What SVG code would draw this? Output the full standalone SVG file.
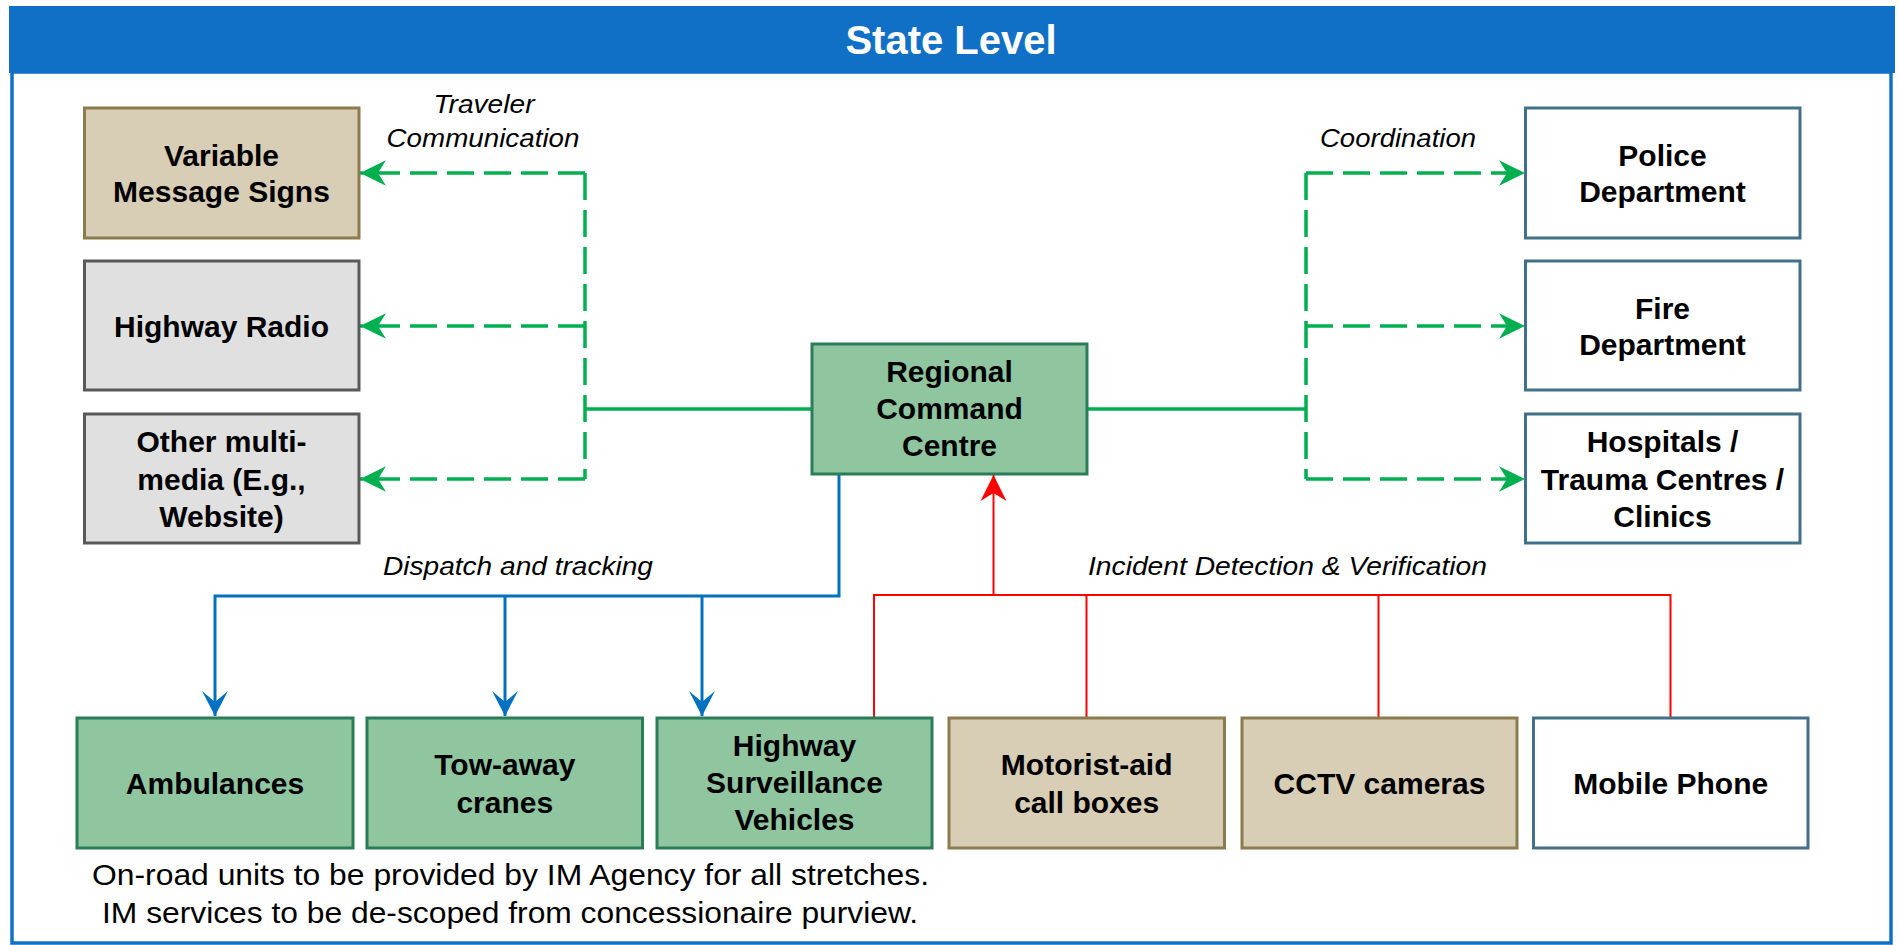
<svg xmlns="http://www.w3.org/2000/svg" width="1898" height="945" viewBox="0 0 1898 945">
<defs>
<style>
.t{font-family:"Liberation Sans",Arial,sans-serif;font-weight:bold;font-size:30px;fill:#000;text-anchor:middle}
.lbl{font-family:"Liberation Sans",Arial,sans-serif;font-style:italic;font-size:26px;fill:#000;text-anchor:middle}
.note{font-family:"Liberation Sans",Arial,sans-serif;font-size:30px;fill:#000}
.g{fill:#8FC6A0;stroke:#2A7D57;stroke-width:3}
.tan{fill:#D8CDB5;stroke:#8C7B4F;stroke-width:3}
.gr{fill:#E0E0E0;stroke:#595959;stroke-width:3}
.w{fill:#FFFFFF;stroke:#42708A;stroke-width:3}
.gd{fill:none;stroke:#00B050;stroke-width:3.5;stroke-dasharray:27 10}
.gs{fill:none;stroke:#00B050;stroke-width:3.5}
.bl{fill:none;stroke:#0070C0;stroke-width:3}
.rd{fill:none;stroke:#FF0000;stroke-width:2}
</style>
<marker id="ag" markerUnits="userSpaceOnUse" markerWidth="30" markerHeight="30" viewBox="-28 -15 30 30" refX="0" refY="0" orient="auto">
<path d="M0,0 L-26,-12.7 L-18,0 L-26,12.7 Z" fill="#00B050"/>
</marker>
<marker id="ab" markerUnits="userSpaceOnUse" markerWidth="30" markerHeight="30" viewBox="-28 -15 30 30" refX="0" refY="0" orient="auto">
<path d="M0,0 L-25,-13 L-14,0 L-25,13 Z" fill="#0070C0"/>
</marker>
<marker id="ar" markerUnits="userSpaceOnUse" markerWidth="30" markerHeight="30" viewBox="-28 -15 30 30" refX="0" refY="0" orient="auto">
<path d="M0,0 L-26,-13 L-18,0 L-26,13 Z" fill="#FF0000"/>
</marker>
</defs>

<g id="frame">
<rect x="12" y="72" width="1879" height="871" fill="#FFFFFF" stroke="#1070C6" stroke-width="3.5"/>
<rect x="9" y="6" width="1886" height="67" fill="#1070C6"/>
<text x="951" y="54" style="font-family:'Liberation Sans',Arial,sans-serif;font-weight:bold;font-size:40px;fill:#FFFFFF;text-anchor:middle">State Level</text>
</g>

<g id="connectors">
<path class="gs" d="M812,409 H585"/>
<path class="gd" d="M585,173 V479"/>
<path class="gd" d="M585,173 H360" marker-end="url(#ag)"/>
<path class="gd" d="M585,326 H360" marker-end="url(#ag)"/>
<path class="gd" d="M585,479 H360" marker-end="url(#ag)"/>
<path class="gs" d="M1087,409 H1306"/>
<path class="gd" d="M1306,173 V479"/>
<path class="gd" d="M1306,173 H1525" marker-end="url(#ag)"/>
<path class="gd" d="M1306,326 H1525" marker-end="url(#ag)"/>
<path class="gd" d="M1306,479 H1525" marker-end="url(#ag)"/>
<path class="bl" d="M839,474 V596 H215 V716" marker-end="url(#ab)"/>
<path class="bl" d="M505,596 V716" marker-end="url(#ab)"/>
<path class="bl" d="M702,596 V716" marker-end="url(#ab)"/>
<path class="rd" d="M874,718 V595 H1670.5 V718"/>
<path class="rd" d="M1086.5,595 V718"/>
<path class="rd" d="M1378.5,595 V718"/>
<path class="rd" d="M993.5,595 V475" marker-end="url(#ar)"/>
<text class="lbl" x="484" y="113" textLength="101" lengthAdjust="spacingAndGlyphs">Traveler</text>
<text class="lbl" x="483" y="147" textLength="193" lengthAdjust="spacingAndGlyphs">Communication</text>
<text class="lbl" x="1398" y="147" textLength="156" lengthAdjust="spacingAndGlyphs">Coordination</text>
<text class="lbl" x="518" y="575" textLength="270" lengthAdjust="spacingAndGlyphs">Dispatch and tracking</text>
<text class="lbl" x="1287.5" y="575" textLength="399" lengthAdjust="spacingAndGlyphs">Incident Detection &amp; Verification</text>
</g>

<g id="vms"><rect class="tan" x="84.5" y="108" width="274.5" height="130"/>
<text class="t" x="221.5" y="166">Variable</text><text class="t" x="221.5" y="202">Message Signs</text></g>
<g id="radio"><rect class="gr" x="84.5" y="261" width="274.5" height="129"/>
<text class="t" x="221.5" y="336.5">Highway Radio</text></g>
<g id="multimedia"><rect class="gr" x="84.5" y="414" width="274.5" height="129"/>
<text class="t" x="221.5" y="452">Other multi-</text><text class="t" x="221.5" y="489.5">media (E.g.,</text><text class="t" x="221.5" y="526.5">Website)</text></g>

<g id="police"><rect class="w" x="1525.5" y="108" width="274.5" height="130"/>
<text class="t" x="1662.5" y="166">Police</text><text class="t" x="1662.5" y="202">Department</text></g>
<g id="fire"><rect class="w" x="1525.5" y="261" width="274.5" height="129"/>
<text class="t" x="1662.5" y="318.5">Fire</text><text class="t" x="1662.5" y="355">Department</text></g>
<g id="hospitals"><rect class="w" x="1525.5" y="414" width="274.5" height="129"/>
<text class="t" x="1662.5" y="452">Hospitals /</text><text class="t" x="1662.5" y="489.5">Trauma Centres /</text><text class="t" x="1662.5" y="526.5">Clinics</text></g>

<g id="rcc"><rect class="g" x="812" y="344" width="275" height="130"/>
<text class="t" x="949.5" y="381.5">Regional</text><text class="t" x="949.5" y="419">Command</text><text class="t" x="949.5" y="456">Centre</text></g>

<g id="ambulances"><rect class="g" x="77" y="718" width="276" height="130"/>
<text class="t" x="215" y="793.5">Ambulances</text></g>
<g id="cranes"><rect class="g" x="367" y="718" width="275.5" height="130"/>
<text class="t" x="504.8" y="775">Tow-away</text><text class="t" x="504.8" y="812.5">cranes</text></g>
<g id="hsv"><rect class="g" x="657" y="718" width="275" height="130"/>
<text class="t" x="794.5" y="756">Highway</text><text class="t" x="794.5" y="793">Surveillance</text><text class="t" x="794.5" y="830">Vehicles</text></g>
<g id="callboxes"><rect class="tan" x="949" y="718" width="275.5" height="130"/>
<text class="t" x="1086.7" y="775">Motorist-aid</text><text class="t" x="1086.7" y="812.5">call boxes</text></g>
<g id="cctv"><rect class="tan" x="1242" y="718" width="275" height="130"/>
<text class="t" x="1379.5" y="793.5">CCTV cameras</text></g>
<g id="mobile"><rect class="w" x="1533.5" y="718" width="274.5" height="130"/>
<text class="t" x="1670.7" y="793.5">Mobile Phone</text></g>

<g id="note">
<text class="note" x="92" y="885" textLength="837" lengthAdjust="spacingAndGlyphs">On-road units to be provided by IM Agency for all stretches.</text>
<text class="note" x="102" y="923" textLength="816" lengthAdjust="spacingAndGlyphs">IM services to be de-scoped from concessionaire purview.</text>
</g>
</svg>
